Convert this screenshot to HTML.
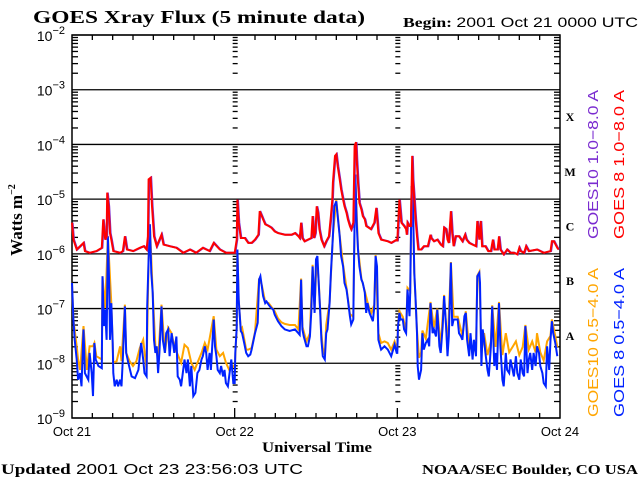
<!DOCTYPE html>
<html><head><meta charset="utf-8"><style>
html,body{margin:0;padding:0;background:#fff;}
svg{display:block;}
.sans{font-family:"Liberation Sans",sans-serif;}
.serif{font-family:"Liberation Serif",serif;font-weight:bold;}
</style></head><body>
<svg id="chart" width="640" height="480" viewBox="0 0 640 480" xmlns="http://www.w3.org/2000/svg">
<text x="33" y="23" class="serif" font-size="18" textLength="332" lengthAdjust="spacingAndGlyphs">GOES Xray Flux (5 minute data)</text>
<text x="403" y="27" font-size="14" textLength="235" lengthAdjust="spacingAndGlyphs"><tspan class="serif">Begin:  </tspan><tspan class="sans">2001 Oct 21 0000 UTC</tspan></text>
<text transform="translate(22,220) rotate(-90)" text-anchor="middle" class="serif" font-size="17">Watts m<tspan font-size="10" dy="-7">−2</tspan></text>
<text x="262" y="452" class="serif" font-size="15" textLength="110" lengthAdjust="spacingAndGlyphs">Universal Time</text>
<text x="1" y="474" font-size="15" textLength="302" lengthAdjust="spacingAndGlyphs"><tspan class="serif">Updated</tspan><tspan class="sans"> 2001 Oct 23 23:56:03 UTC</tspan></text>
<text x="422" y="474" class="serif" font-size="14" textLength="216" lengthAdjust="spacingAndGlyphs">NOAA/SEC Boulder, CO USA</text>
<g id="plot"></g>
<g id="legend">
<text transform="translate(598,239) rotate(-90)" class="sans" font-size="15" fill="#7a2bd0" textLength="149" lengthAdjust="spacingAndGlyphs">GOES10 1.0−8.0 A</text>
<text transform="translate(624,239) rotate(-90)" class="sans" font-size="15" fill="#ff0000" textLength="149" lengthAdjust="spacingAndGlyphs">GOES 8 1.0−8.0 A</text>
<text transform="translate(598,417) rotate(-90)" class="sans" font-size="15" fill="#ffa500" textLength="149" lengthAdjust="spacingAndGlyphs">GOES10 0.5−4.0 A</text>
<text transform="translate(624,417) rotate(-90)" class="sans" font-size="15" fill="#0022ff" textLength="149" lengthAdjust="spacingAndGlyphs">GOES 8 0.5−4.0 A</text>
</g>
</svg>
<script>
const dayLabels=["Oct 21","Oct 22","Oct 23","Oct 24"];
const decadeExps=[-2,-3,-4,-5,-6,-7,-8,-9];
const classLetters=["X","M","C","B","A"];
const classExps=[-3.5,-4.5,-5.5,-6.5,-7.5];
const redT=[0,0.2,0.7,1.7,1.9,2.6,3.6,4.4,4.6,4.9,5.1,5.2,5.4,5.6,5.8,6.1,7.1,7.5,7.8,8.1,9,10,10.6,11,11.2,11.3,11.6,11.8,12.1,12.5,13.2,13.5,14.4,15.4,16.4,17.4,18.3,19.3,20.3,20.9,21.8,22.7,23.7,
24,24.3,24.4,24.6,24.9,25.5,26,26.5,27,27.5,27.7,28,28.2,28.5,29,29.4,29.9,30.4,31.4,32.4,32.9,33.4,33.6,33.8,34,34.3,34.8,35.3,35.5,35.7,35.9,36.1,36.3,36.5,36.8,37.2,37.5,37.9,38.2,38.4,38.5,38.8,39,39.2,39.5,39.7,40,40.2,40.5,40.7,41,41.2,41.5,41.7,41.9,42,42.2,42.4,42.7,42.9,43.2,43.4,44.1,44.6,44.9,45,45.2,45.6,46.6,47.1,47.9,
48,48.1,48.3,48.4,48.6,49,49.3,49.4,49.5,49.8,50,50.2,50.3,50.5,50.7,50.9,51.1,51.5,51.9,52.5,52.9,53,53.4,53.9,54.4,54.7,54.9,55.2,55.4,55.6,55.9,56.1,56.3,56.6,57.1,57.6,58,58.2,58.6,59.1,59.6,59.8,60.1,60.3,60.5,61,61.4,61.8,62.1,62.3,62.8,63,63.2,63.7,64.2,64.7,65.2,65.7,66,66.2,66.7,67,67.4,68.6,69.6,70.6,70.8,71.1,71.6,71.8];
const redV=[-5.43,-5.74,-5.92,-5.8,-5.95,-5.98,-5.95,-5.89,-5.37,-5.74,-5.68,-4.88,-5.13,-5.62,-5.74,-5.95,-5.98,-5.95,-5.68,-5.92,-5.95,-5.89,-5.86,-5.92,-5.68,-4.64,-4.61,-5.13,-5.68,-5.86,-5.65,-5.83,-5.86,-5.89,-5.98,-5.92,-5.98,-5.89,-5.95,-5.8,-5.92,-5.98,-5.98,
-5.98,-5.74,-5.01,-5.43,-5.71,-5.71,-5.8,-5.8,-5.74,-5.65,-5.22,-5.31,-5.37,-5.46,-5.49,-5.52,-5.59,-5.62,-5.65,-5.65,-5.62,-5.68,-5.71,-5.43,-5.71,-5.77,-5.74,-5.71,-5.31,-5.71,-5.62,-5.13,-5.25,-5.55,-5.74,-5.86,-5.77,-5.68,-5.31,-5.01,-4.7,-4.21,-4.18,-4.4,-4.64,-4.82,-5.01,-5.13,-5.25,-5.37,-5.49,-5.55,-5.43,-4.03,-3.96,-4.27,-4.7,-5.07,-5.19,-5.31,-5.37,-5.49,-5.55,-5.43,-5.16,-5.31,-5.62,-5.74,-5.77,-5.8,-5.74,
-5.77,-5.49,-5.01,-5.13,-5.43,-5.49,-5.55,-5.65,-5.43,-5.49,-5.49,-4.21,-4.64,-5.01,-5.37,-5.68,-5.92,-5.92,-5.86,-5.86,-5.65,-5.71,-5.77,-5.74,-5.83,-5.86,-5.52,-5.55,-5.74,-5.8,-5.22,-5.62,-5.86,-5.68,-5.68,-5.77,-5.65,-5.74,-5.8,-5.83,-5.86,-5.4,-5.74,-5.4,-5.86,-5.86,-5.95,-5.95,-5.74,-5.92,-5.92,-5.68,-5.92,-6.01,-5.92,-5.98,-5.98,-6.01,-5.89,-5.95,-5.98,-5.86,-5.95,-5.92,-5.98,-5.95,-5.77,-5.77,-5.89,-5.92];
const blueT=[0,0.2,0.4,0.7,0.9,1.2,1.4,1.7,1.9,2.4,2.6,2.9,3.1,3.3,3.5,3.9,4.4,4.5,4.7,4.9,5.1,5.3,5.5,5.6,5.8,6,6.1,6.3,6.6,6.8,7.1,7.3,7.5,7.8,8,8.3,8.8,9.3,9.8,10,10.2,10.5,10.7,11,11.1,11.3,11.5,11.7,11.9,12.1,12.3,12.5,12.7,12.9,13.2,13.4,13.7,13.9,14.2,14.4,14.7,14.9,15.1,15.4,15.6,15.9,16.1,16.4,16.6,16.9,17.1,17.4,17.6,17.9,18.2,18.5,18.8,19.1,19.3,19.6,19.8,20,20.3,20.5,20.9,21.1,21.3,21.5,21.8,22,22.3,22.5,22.7,23,23.5,23.8,
24,24.1,24.3,24.4,24.6,24.9,25.1,25.4,25.7,26,26.3,26.5,27,27.4,27.6,27.8,28,28.2,28.5,28.7,29,29.2,29.4,29.7,29.9,30.4,30.9,31.4,32.1,32.9,33.4,33.6,33.8,34,34.2,34.6,34.8,35.1,35.3,35.5,35.8,36,36.2,36.4,36.6,36.8,37,37.3,37.5,37.7,38,38.2,38.5,38.7,39,39.2,39.5,39.7,40,40.2,40.5,40.7,41,41.2,41.5,41.6,41.8,42,42.2,42.4,42.7,42.9,43.2,43.4,43.6,43.9,44.1,44.4,44.6,44.8,45,45.2,45.6,46.1,46.6,47.1,47.6,47.9,
48,48.1,48.3,48.5,48.8,49,49.3,49.5,49.8,49.9,50.1,50.3,50.5,50.7,50.9,51,51.2,51.5,51.7,51.9,52.2,52.5,52.7,52.9,53.2,53.4,53.7,53.9,54.2,54.4,54.7,54.9,55.2,55.4,55.6,55.9,56.1,56.3,56.6,56.9,57.1,57.4,57.6,57.9,58.1,58.3,58.6,58.8,59.1,59.3,59.6,59.8,60.1,60.2,60.4,60.6,60.8,61,61.3,61.5,61.8,62,62.3,62.5,62.7,63,63.2,63.5,63.7,64,64.2,64.5,64.7,65,65.2,65.5,65.7,66,66.2,66.5,66.7,66.9,67.2,67.4,67.6,67.9,68.1,68.4,68.6,68.9,69.1,69.4,69.6,69.9,70.1,70.4,70.6,70.8,71,71.3,71.6];
const blueV=[-6.53,-7.2,-7.57,-7.93,-8.3,-8.18,-8.42,-7.38,-8.18,-8.3,-7.81,-8.18,-8.6,-7.63,-7.93,-8.05,-8.09,-6.41,-7.32,-7.02,-7.57,-5.68,-6.65,-7.57,-6.9,-7.63,-8.18,-8.42,-8.3,-8.42,-8.3,-8.42,-7.93,-6.96,-7.81,-7.99,-8.24,-8.27,-8.12,-7.87,-7.63,-7.93,-8.18,-8.24,-6.96,-6.1,-5.46,-6.35,-6.71,-7.57,-7.81,-7.69,-8.18,-7.81,-6.96,-7.57,-7.81,-7.45,-7.38,-7.87,-7.45,-7.63,-7.81,-7.51,-8.24,-8.3,-8.42,-8.12,-7.93,-8.18,-7.93,-8.42,-8.05,-8.6,-8.54,-8.18,-8.12,-7.93,-7.87,-7.69,-7.81,-8.12,-7.81,-8.12,-7.2,-7.69,-7.87,-8.12,-8.18,-8.05,-8.24,-8.12,-8.36,-8.42,-7.93,-8.36,
-8.36,-7.81,-7.35,-5.92,-6.84,-7.41,-7.45,-7.63,-7.81,-7.87,-7.84,-7.75,-7.45,-7.26,-6.47,-6.41,-6.59,-6.77,-6.9,-6.87,-6.93,-6.96,-6.99,-7.02,-7.11,-7.23,-7.32,-7.38,-7.41,-7.38,-7.45,-7.48,-6.47,-7.38,-7.51,-7.69,-7.69,-7.51,-7.05,-6.23,-7.08,-6.1,-6.04,-6.53,-7.02,-7.57,-7.87,-7.93,-7.45,-7.38,-6.9,-6.35,-5.68,-5.13,-5.04,-5.31,-5.68,-6.04,-6.23,-6.53,-6.65,-6.84,-7.14,-7.29,-7.2,-6.16,-4.55,-5.43,-5.92,-6.23,-6.47,-6.53,-6.71,-7.08,-6.9,-7.08,-7.14,-7.23,-6.96,-6.04,-6.23,-7.57,-7.75,-7.69,-7.75,-7.87,-7.66,-7.81,
-7.81,-7.32,-7.08,-7.2,-7.2,-7.38,-7.45,-6.65,-7.14,-6.71,-4.76,-5.01,-6.35,-6.84,-7.45,-8.05,-8.3,-8.12,-7.45,-7.75,-7.63,-7.57,-7.69,-6.9,-7.45,-7.38,-7.51,-7.02,-7.69,-7.81,-7.32,-6.77,-7.32,-7.87,-7.51,-6.16,-7.32,-7.2,-7.2,-7.2,-7.45,-7.51,-7.57,-7.14,-7.08,-7.57,-7.87,-7.45,-7.93,-7.57,-7.87,-6.41,-6.35,-6.53,-8.05,-7.38,-7.57,-7.81,-8.12,-8.24,-7.69,-6.96,-8.05,-7.81,-8.12,-6.9,-7.69,-8.3,-8.42,-7.81,-8.12,-8.18,-7.93,-8.12,-8.24,-7.87,-8.18,-8.3,-7.93,-8.18,-8.24,-7.32,-8.18,-7.93,-7.81,-8.12,-7.81,-8.05,-7.69,-7.81,-8.05,-8.18,-8.36,-8.42,-7.69,-8.12,-7.57,-7.23,-7.45,-7.63,-7.87];
const orangeT=[0,0.2,0.7,0.9,1.2,1.7,2.2,2.6,3.1,3.3,3.6,4.4,4.5,4.9,5.3,5.8,6.1,6.6,7.1,7.3,7.8,8,8.5,9,9.5,10,10.5,11,11.3,11.5,11.9,12.3,12.7,13.2,13.7,14.2,14.7,15.1,15.6,16.1,16.6,17.1,17.6,18.1,18.6,19.1,19.6,20,20.9,21.3,21.8,22.3,22.7,23.2,23.8,
24,24.3,24.4,24.6,24.9,25.1,25.7,26,26.5,27,27.6,28,28.5,29,29.9,30.4,30.9,31.4,32.1,32.9,33.4,33.8,34,34.6,35.1,35.5,35.8,36.1,36.4,36.8,37,37.3,37.5,38,38.5,39,39.5,40,40.5,41,41.5,41.8,42.2,42.7,43.2,43.6,44.1,44.6,44.8,45.2,45.6,46.1,46.6,47.1,47.6,47.9,
48,48.1,48.3,48.8,49.3,49.5,49.9,50.1,50.3,50.5,50.9,51.2,51.5,51.7,52.2,52.9,53.4,53.9,54.4,54.9,55.4,55.9,56.3,56.9,57.6,58.1,58.6,59.1,59.6,59.8,60.1,60.4,60.8,61.3,61.8,62,62.5,63,63.5,64,64.5,65,65.5,66,66.5,66.9,67.4,67.9,68.4,68.6,69.1,69.6,70.1,70.6,70.8,71.3,71.6];
const orangeV=[-6.53,-7.2,-7.69,-7.93,-8.12,-7.32,-8.12,-7.69,-7.69,-7.63,-7.87,-7.93,-6.41,-6.99,-5.68,-6.9,-7.99,-7.96,-7.69,-7.96,-6.93,-7.81,-7.96,-8.05,-7.96,-7.72,-7.57,-8.12,-6.1,-5.46,-6.71,-7.69,-7.93,-6.93,-7.81,-7.35,-7.45,-7.69,-7.84,-7.99,-7.66,-7.72,-7.99,-8.12,-7.96,-7.81,-7.63,-7.75,-7.14,-7.75,-7.87,-7.81,-7.99,-8.12,-8.05,
-8.08,-7.35,-5.92,-6.84,-7.38,-7.35,-7.75,-7.75,-7.72,-7.43,-6.45,-6.57,-6.88,-6.9,-7.05,-7.18,-7.25,-7.28,-7.3,-7.3,-7.38,-6.45,-7.33,-7.6,-7.45,-6.2,-7.0,-6.08,-6.5,-7.45,-7.72,-7.85,-7.3,-6.88,-5.66,-5.02,-5.66,-6.2,-6.62,-7.1,-7.15,-4.55,-5.9,-6.45,-6.68,-6.88,-7.1,-6.93,-6.02,-7.45,-7.63,-7.6,-7.63,-7.75,-7.6,-7.72,
-7.75,-7.3,-7.05,-7.15,-7.4,-6.62,-6.68,-4.76,-5.01,-6.35,-7.4,-7.9,-7.8,-7.4,-7.55,-6.88,-7.35,-7.0,-7.7,-6.75,-7.75,-6.15,-7.15,-7.15,-7.5,-7.05,-7.75,-7.7,-7.8,-6.4,-6.33,-7.8,-7.45,-7.85,-7.6,-6.94,-7.7,-6.88,-7.85,-7.45,-7.8,-7.7,-7.6,-7.85,-7.7,-7.3,-7.75,-7.6,-7.8,-7.45,-7.8,-7.95,-7.6,-7.5,-7.2,-7.5,-7.7];

const X0=72,X1=560,Y0=35,Y1=418,HOURS=72,TOPEXP=-2,BOTEXP=-9;
const NS="http://www.w3.org/2000/svg";
function xs(t){return X0+(X1-X0)*t/HOURS;}
function ys(e){return Y0+(Y1-Y0)*(TOPEXP-e)/(TOPEXP-BOTEXP);}
const plot=document.getElementById('plot');
function mk(tag,attrs,parent){const el=document.createElementNS(NS,tag);for(const k in attrs)el.setAttribute(k,attrs[k]);(parent||plot).appendChild(el);return el;}

decadeExps.forEach(function(e){
  const l=mk('line',{x1:X0,x2:X1,y1:ys(e),y2:ys(e),stroke:'#000','stroke-width':1.3});
  
  
  const tx=mk('text',{x:X0-7,y:ys(e)+6,'text-anchor':'end','font-size':14,class:'sans'});
  
  
  tx.appendChild(document.createTextNode('10'));
  const sp=document.createElementNS(NS,'tspan');sp.setAttribute('dy','-7');sp.setAttribute('font-size','11');sp.textContent='−'+(-e);tx.appendChild(sp);
});
const tg=mk('g',{stroke:'#000','stroke-width':1.3});


for(let e=BOTEXP;e<TOPEXP;e++){for(let m=2;m<=9;m++){const y=ys(e+Math.log10(m));
  mk('line',{x1:X0,x2:X0+6,y1:y,y2:y},tg);mk('line',{x1:X1-6,x2:X1,y1:y,y2:y},tg);
  [24,48].forEach(function(h){mk('line',{x1:xs(h)-2,x2:xs(h)+3,y1:y,y2:y},tg);});}}
for(let h=3;h<HOURS;h+=3){if(h%24===0)continue;mk('line',{x1:xs(h),x2:xs(h),y1:Y0,y2:Y0+5},tg);mk('line',{x1:xs(h),x2:xs(h),y1:Y1,y2:Y1-5},tg);}
[24,48].forEach(function(h){const l=mk('line',{x1:xs(h),x2:xs(h),y1:Y1,y2:Y1-10,stroke:'#000','stroke-width':1.3});
  
  });
const fr=mk('rect',{x:X0,y:Y0,width:X1-X0,height:Y1-Y0,fill:'none',stroke:'#000','stroke-width':1.5});


dayLabels.forEach(function(s,i){const t=mk('text',{x:xs(i*24),y:Y1+18,'text-anchor':'middle','font-size':13,class:'sans'});
  
  
  t.textContent=s;});
classLetters.forEach(function(s,i){const t=mk('text',{x:570,y:ys(classExps[i])+4,'text-anchor':'middle','font-size':12,class:'serif'});
  
  
  t.textContent=s;});
function series(T,V,color,name,dx){let d='';T.forEach(function(t,i){d+=(i?'L':'M')+(xs(t)+dx).toFixed(1)+','+ys(V[i]).toFixed(1);});
  const p=mk('path',{d:d,fill:'none',stroke:color,'stroke-width':2,'stroke-linejoin':'miter'});
  
  }
series(orangeT,orangeV,'#ffa500','series-goes10-short',0);
series(blueT,blueV,'#0022ff','series-goes8-short',0);
series(redT,redV,'#7a2bd0','series-goes10-long',0.6);
series(redT,redV,'#ff0000','series-goes8-long',0);
</script>
</body></html>
